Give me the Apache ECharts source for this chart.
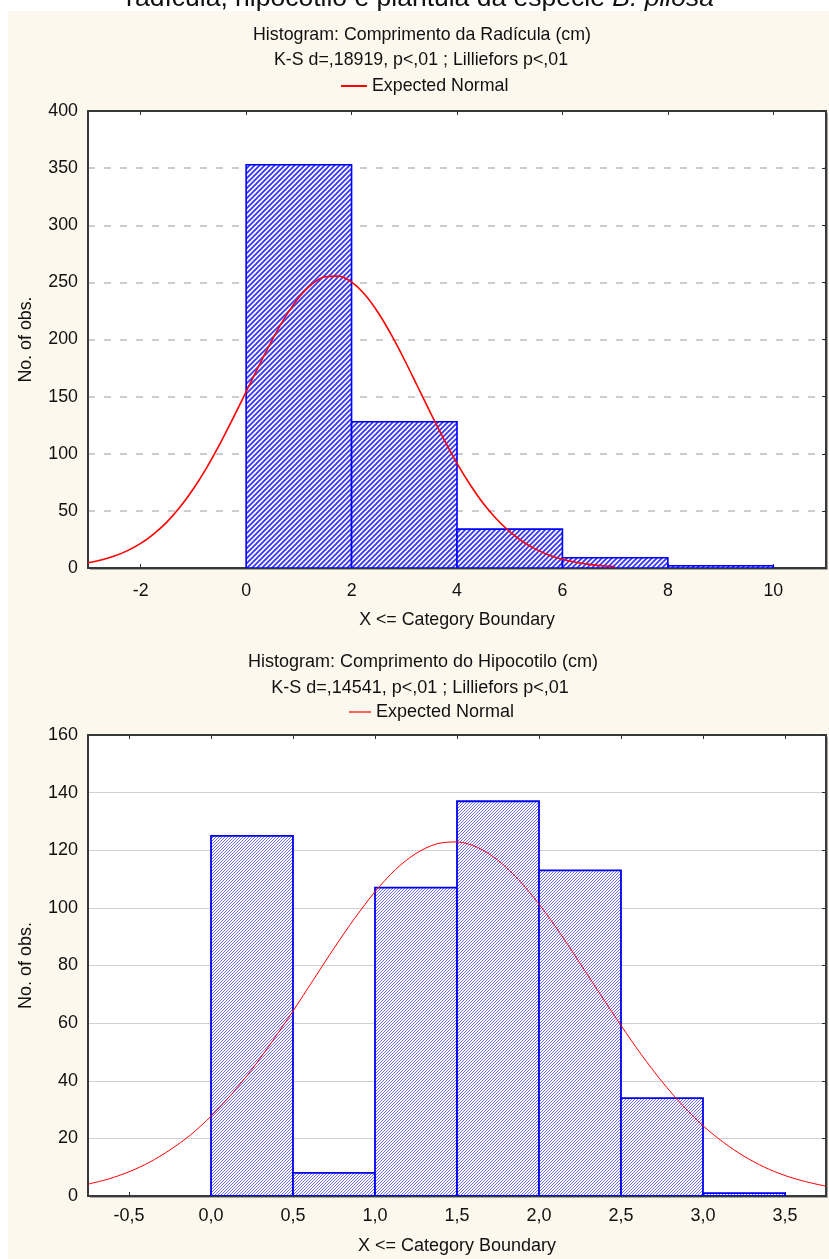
<!DOCTYPE html>
<html>
<head>
<meta charset="utf-8">
<script src="https://cdn.jsdelivr.net/npm/echarts@6/dist/echarts.min.js"></script>
<style>
html,body{margin:0;padding:0;background:#fff;}
#chart{width:829px;height:1259px;}
</style>
</head>
<body>
<div id="chart"></div>
<script>
// ---------- Data ----------
// Top histogram: Comprimento da Radícula (cm)
const topBinStart = [0, 2, 4, 6, 8];
const topBinEnd   = [2, 4, 6, 8, 10];
const topCounts   = [353, 128, 34, 9, 2];
const topCurveX = [-3, -2.75, -2.5, -2.25, -2, -1.75, -1.5, -1.25, -1, -0.75, -0.5, -0.25, 0, 0.25, 0.5, 0.75, 1, 1.25, 1.5, 1.75, 2, 2.25, 2.5, 2.75, 3, 3.25, 3.5, 3.75, 4, 4.25, 4.5, 4.75, 5, 5.25, 5.5, 5.75, 6, 6.25, 6.5, 6.75, 7];
const topCurveY = [4.6, 7.0, 10.4, 15.2, 21.5, 29.9, 40.4, 53.6, 69.4, 87.7, 108.4, 130.9, 154.3, 177.8, 200.2, 220.2, 236.7, 248.5, 254.9, 255.5, 250.2, 239.4, 223.8, 204.4, 182.5, 159.1, 135.5, 112.8, 91.6, 72.9, 56.5, 42.9, 31.8, 23.0, 16.3, 11.2, 7.6, 5.0, 3.2, 2.0, 1.3];
const topXTicks = [-2, 0, 2, 4, 6, 8, 10];

// Bottom histogram: Comprimento do Hipocotilo (cm)
const botBinStart = [0, 0.5, 1, 1.5, 2, 2.5, 3];
const botBinEnd   = [0.5, 1, 1.5, 2, 2.5, 3, 3.5];
const botCounts   = [125, 8, 107, 137, 113, 34, 1];
const botCurveX = [-0.75, -0.625, -0.5, -0.375, -0.25, -0.125, 0, 0.125, 0.25, 0.375, 0.5, 0.625, 0.75, 0.875, 1, 1.125, 1.25, 1.375, 1.5, 1.625, 1.75, 1.875, 2, 2.125, 2.25, 2.375, 2.5, 2.625, 2.75, 2.875, 3, 3.125, 3.25, 3.375, 3.5, 3.625, 3.75];
const botCurveY = [4.1, 5.9, 8.4, 11.7, 16.0, 21.2, 27.7, 35.3, 44.0, 53.8, 64.2, 75.1, 86.0, 96.3, 105.6, 113.3, 118.9, 122.2, 122.9, 121.0, 116.5, 109.8, 101.3, 91.5, 80.8, 69.9, 59.2, 49.0, 39.7, 31.5, 24.4, 18.6, 13.8, 10.0, 7.1, 5.0, 3.4];
const botXTicks = [-0.5, 0, 0.5, 1, 1.5, 2, 2.5, 3, 3.5];

const captionText = 'radícula, hipocótilo e plântula da espécie ';
const captionItalic = 'B. pilosa';
const topTitle = 'Histogram: Comprimento da Radícula (cm)';
const topStats = 'K-S d=,18919, p<,01 ; Lilliefors p<,01';
const botTitle = 'Histogram: Comprimento do Hipocotilo (cm)';
const botStats = 'K-S d=,14541, p<,01 ; Lilliefors p<,01';
const legendName = 'Expected Normal';
const yName = 'No. of obs.';
const xName = 'X <= Category Boundary';

// ---------- Styling helpers ----------
const FONT = '"Liberation Sans", Arial, sans-serif';
function hatch(size, color, lw) {
  const c = document.createElement('canvas');
  c.width = size; c.height = size;
  const g = c.getContext('2d');
  g.fillStyle = '#ffffff';
  g.fillRect(0, 0, size, size);
  g.strokeStyle = color;
  g.lineWidth = lw;
  g.beginPath();
  g.moveTo(-1, size + 1); g.lineTo(size + 1, -1);
  g.moveTo(-2, 2); g.lineTo(2, -2);
  g.moveTo(size - 2, size + 2); g.lineTo(size + 2, size - 2);
  g.stroke();
  return c;
}
const topPattern = hatch(5, '#3a3aff', 1.9);
const botPattern = hatch(3, '#6e6eff', 1.0);

function histRender(pattern, stroke, lw) {
  return function (params, api) {
    const p0 = api.coord([api.value(0), api.value(2)]);
    const p1 = api.coord([api.value(1), 0]);
    return {
      type: 'rect',
      shape: { x: p0[0], y: p0[1], width: p1[0] - p0[0], height: p1[1] - p0[1] },
      style: { fill: { image: pattern, repeat: 'repeat' }, stroke: stroke, lineWidth: lw }
    };
  };
}

const FRAME = { show: true, onZero: false, lineStyle: { color: '#383838', width: 2 } };

function axesFor(gridIndex, xmin, xmax, xticks, fmt, ymax, yint, fs, splitStyle, labelMargin, nameGap, yNameGap) {
  const x = [
    {
      type: 'value', gridIndex, min: xmin, max: xmax, position: 'bottom',
      axisLine: FRAME,
      axisTick: { show: true, inside: true, length: 4, customValues: xticks, lineStyle: { color: '#2e2e2e' } },
      axisLabel: { customValues: xticks, formatter: fmt, fontSize: fs, fontFamily: FONT, color: '#111', margin: labelMargin },
      splitLine: { show: false },
      name: xName, nameLocation: 'middle', nameGap: nameGap,
      nameTextStyle: { fontSize: fs, fontFamily: FONT, color: '#111' }
    },
    {
      type: 'value', gridIndex, min: xmin, max: xmax, position: 'top',
      axisLine: FRAME,
      axisTick: { show: true, inside: true, length: 4, customValues: xticks, lineStyle: { color: '#2e2e2e' } },
      axisLabel: { show: false },
      splitLine: { show: false }
    }
  ];
  const y = [
    {
      type: 'value', gridIndex, min: 0, max: ymax, interval: yint, position: 'left',
      axisLine: FRAME,
      axisTick: { show: false },
      axisLabel: { fontSize: fs, fontFamily: FONT, color: '#111', margin: 10 },
      splitLine: { show: true, lineStyle: splitStyle },
      name: yName, nameLocation: 'middle', nameGap: yNameGap,
      nameTextStyle: { fontSize: fs, fontFamily: FONT, color: '#111' }
    },
    {
      type: 'value', gridIndex, min: 0, max: ymax, interval: yint, position: 'right',
      axisLine: FRAME,
      axisTick: { show: true, inside: true, length: 4, lineStyle: { color: '#2e2e2e' } },
      axisLabel: { show: false },
      splitLine: { show: false }
    }
  ];
  return { x, y };
}

const TOPFS = 17.8;
const topAxes = axesFor(0, -3, 11, topXTicks, v => String(v), 400, 50, TOPFS,
  { color: '#bdbdbd', width: 1.5, type: [7, 9] }, 14, 43, 53);
const botAxes = axesFor(1, -0.75, 3.75, botXTicks, v => v.toFixed(1).replace('.', ','), 160, 20, 18,
  { color: '#cfcfcf', width: 1, type: 'solid' }, 11, 41, 53);

function centerText(text, x, y, fs) {
  return { type: 'text', x, y, z: 10,
    style: { text, fontSize: fs, fontFamily: FONT, fill: '#111', align: 'center', verticalAlign: 'middle' } };
}

const option = {
  animation: false,
  backgroundColor: '#ffffff',
  graphic: [
    { type: 'rect', shape: { x: 8, y: 11, width: 821, height: 1248 }, style: { fill: '#fdf8ed' }, z: -10, silent: true },
    { type: 'text', x: 420, y: -1.5, z: 10,
      style: {
        text: '{a|' + captionText + '}{b|' + captionItalic + '}',
        align: 'center', verticalAlign: 'middle',
        rich: {
          a: { fontSize: 26.5, fontFamily: FONT, fill: '#111', color: '#111' },
          b: { fontSize: 26.5, fontFamily: FONT, fontStyle: 'italic', fill: '#111', color: '#111' }
        }
      }
    },
    centerText(topTitle, 422, 35, TOPFS),
    centerText(topStats, 421, 60, TOPFS),
    centerText(botTitle, 423, 662, 18),
    centerText(botStats, 420, 688, 18)
  ],
  legend: [
    { left: 341, top: 77, padding: 0, itemWidth: 26, itemHeight: 2, itemGap: 6, icon: 'rect',
      data: [legendName], textStyle: { fontSize: TOPFS, fontFamily: FONT, color: '#111' }, selectedMode: false },
    { left: 349, top: 703, padding: 0, itemWidth: 22, itemHeight: 1.2, itemGap: 6, icon: 'rect',
      data: [legendName], textStyle: { fontSize: 18, fontFamily: FONT, color: '#111' }, selectedMode: false }
  ],
  grid: [
    { left: 88, top: 111, width: 738, height: 457, show: true, backgroundColor: '#ffffff', borderWidth: 0,
      shadowColor: '#a8a8a8', shadowBlur: 0, shadowOffsetX: 2, shadowOffsetY: 2 },
    { left: 88, top: 735, width: 738, height: 461, show: true, backgroundColor: '#ffffff', borderWidth: 0,
      shadowColor: '#a8a8a8', shadowBlur: 0, shadowOffsetX: 2, shadowOffsetY: 2 }
  ],
  xAxis: topAxes.x.concat(botAxes.x),
  yAxis: topAxes.y.concat(botAxes.y),
  series: [
    {
      type: 'custom', name: 'topHist', xAxisIndex: 0, yAxisIndex: 0, clip: true,
      renderItem: histRender(topPattern, '#0000ff', 1.6),
      data: topBinStart.map((s, i) => [s, topBinEnd[i], topCounts[i]]),
      encode: { x: [0, 1], y: 2 }, z: 2
    },
    {
      type: 'line', name: legendName, xAxisIndex: 0, yAxisIndex: 0, smooth: 0.3, showSymbol: false, symbol: 'none',
      lineStyle: { color: '#ff0000', width: 1.6 }, itemStyle: { color: '#ff0000' }, z: 5,
      data: topCurveX.map((x, i) => [x, topCurveY[i]])
    },
    {
      type: 'custom', name: 'botHist', xAxisIndex: 2, yAxisIndex: 2, clip: true,
      renderItem: histRender(botPattern, '#0000f0', 1.8),
      data: botBinStart.map((s, i) => [s, botBinEnd[i], botCounts[i]]),
      encode: { x: [0, 1], y: 2 }, z: 2
    },
    {
      type: 'line', name: legendName, xAxisIndex: 2, yAxisIndex: 2, smooth: 0.3, showSymbol: false, symbol: 'none',
      lineStyle: { color: '#ff0000', width: 1 }, itemStyle: { color: '#ff0000' }, z: 5,
      data: botCurveX.map((x, i) => [x, botCurveY[i]])
    }
  ]
};

const chart = echarts.init(document.getElementById('chart'), null, { renderer: 'canvas' });
chart.setOption(option);
</script>
</body>
</html>
